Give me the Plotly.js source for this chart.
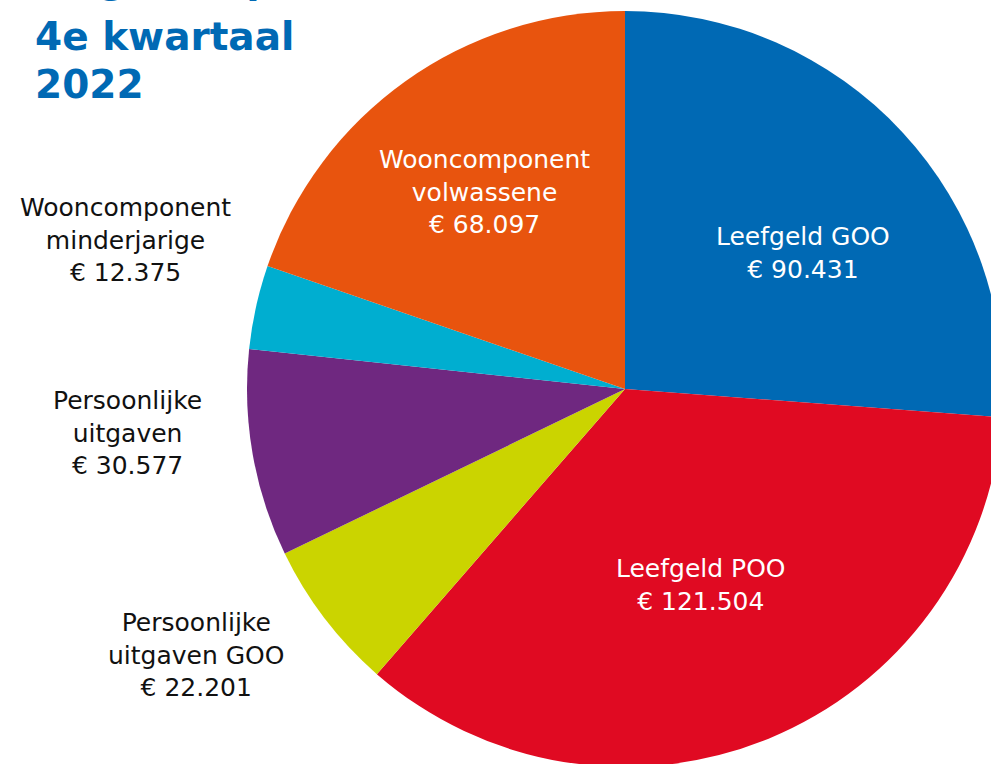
<!DOCTYPE html>
<html>
<head>
<meta charset="utf-8">
<script src="https://cdn.plot.ly/plotly-3.0.1.min.js"></script>
<style>
  html, body { margin: 0; padding: 0; overflow: hidden; background: #fff; }
  #chart { width: 1010px; height: 770px; }
</style>
</head>
<body>
<div id="chart"></div>
<script>
// data
const labels = ['Leefgeld GOO', 'Leefgeld POO', 'Persoonlijke uitgaven GOO',
                'Persoonlijke uitgaven', 'Wooncomponent minderjarige', 'Wooncomponent volwassene'];
const labelText = ['Leefgeld GOO', 'Leefgeld POO', 'Persoonlijke<br>uitgaven GOO',
                   'Persoonlijke<br>uitgaven', 'Wooncomponent<br>minderjarige', 'Wooncomponent<br>volwassene'];
const values = [90431, 121504, 22201, 30577, 12375, 68097];
const titleLines = ['Uitgaven per', '4e kwartaal', '2022'];

const colors = ['#0069b4', '#e00a22', '#cbd400', '#6f2880', '#00aed0', '#e8540e'];
const textColors = ['#fff', '#fff', '#111', '#111', '#111', '#fff'];
// label centres in page pixels
const labelPos = [[803, 253], [701, 585], [196, 655], [127, 433], [125, 240], [484, 192]];
const titleY = [-20, 37, 85];

const W = 1010, H = 770;
const px = x => x / W;
const py = y => 1 - y / H;
const euro = v => '€ ' + String(v).replace(/\B(?=(\d{3})+(?!\d))/g, '.');

const annotations = [];
labels.forEach((l, i) => {
    annotations.push({
        xref: 'paper', yref: 'paper',
        x: px(labelPos[i][0]), y: py(labelPos[i][1]),
        xanchor: 'center', yanchor: 'middle', align: 'center',
        showarrow: false,
        text: labelText[i] + '<br>' + euro(values[i]),
        font: { family: 'DejaVu Sans', size: 25, color: textColors[i] }
    });
});
titleLines.forEach((t, i) => {
    annotations.push({
        xref: 'paper', yref: 'paper',
        x: px(33), y: py(titleY[i]),
        xanchor: 'left', yanchor: 'middle', align: 'left',
        showarrow: false,
        text: '<b>' + t + '</b>',
        font: { family: 'DejaVu Sans', size: 39, color: '#0069b4' }
    });
});

Plotly.newPlot('chart', [{
    type: 'pie',
    labels: labels,
    values: values,
    sort: false,
    direction: 'clockwise',
    rotation: 0,
    textinfo: 'none',
    hoverinfo: 'label+value',
    marker: { colors: colors, line: { width: 0 } },
    domain: { x: [247 / W, 1003 / W], y: [3 / H, 759 / H] }
}], {
    width: W, height: H,
    margin: { l: 0, r: 0, t: 0, b: 0 },
    showlegend: false,
    paper_bgcolor: '#fff',
    annotations: annotations
}, { displayModeBar: false, staticPlot: true });
</script>
</body>
</html>
